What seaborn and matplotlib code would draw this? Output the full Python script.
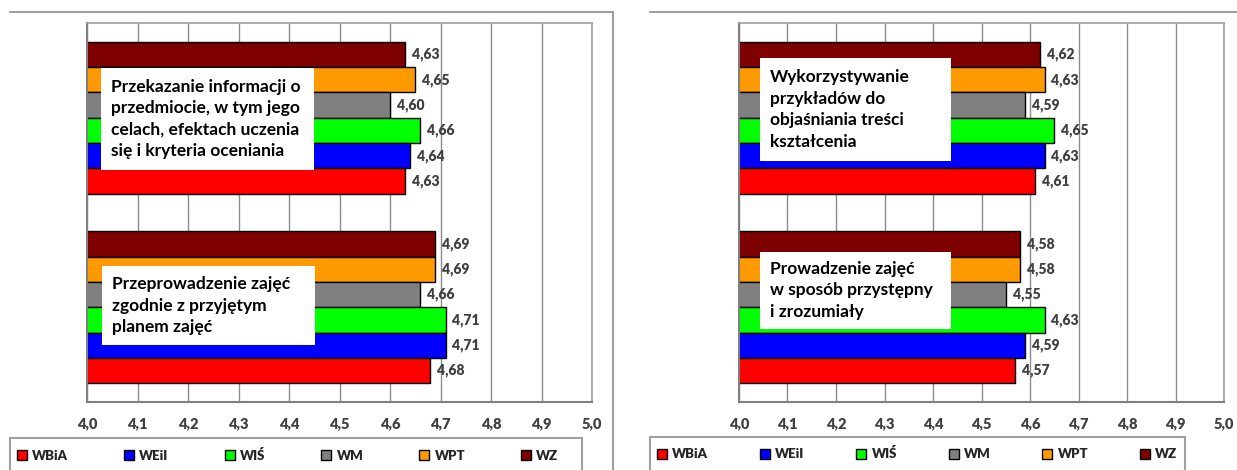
import matplotlib
matplotlib.use("Agg")
import matplotlib.pyplot as plt
from matplotlib.patches import Patch, Rectangle
from matplotlib.lines import Line2D
import pandas as pd
import seaborn as sns

# Faculties (legend order) and their colours
faculties = ["WBiA", "WEiI", "WIŚ", "WM", "WPT", "WZ"]
colors = ["#ff0000", "#0000ff", "#00ff00", "#808080", "#ff9900", "#7f0000"]

# Left panel
left_categories = [
    "Przekazanie informacji o\nprzedmiocie, w tym jego\ncelach, efektach uczenia\nsię i kryteria oceniania",
    "Przeprowadzenie zajęć\nzgodnie z przyjętym\nplanem zajęć",
]
left_informacja = [4.63, 4.64, 4.66, 4.60, 4.65, 4.63]
left_plan = [4.68, 4.71, 4.71, 4.66, 4.69, 4.69]

# Right panel
right_categories = [
    "Wykorzystywanie\nprzykładów do\nobjaśniania treści\nkształcenia",
    "Prowadzenie zajęć\nw sposób przystępny\ni zrozumiały",
]
right_przyklady = [4.61, 4.63, 4.65, 4.59, 4.63, 4.62]
right_przystepny = [4.57, 4.59, 4.63, 4.55, 4.58, 4.58]

x_ticks = [4.0, 4.1, 4.2, 4.3, 4.4, 4.5, 4.6, 4.7, 4.8, 4.9, 5.0]

W, H = 1237, 470
FONT = "Lato"
TXT = "#404040"
FRAME = "#a0a0a0"


def comma(v, d=2):
    return f"{v:.{d}f}".replace(".", ",")


def fx(px):
    return px / W


def fy(py):
    return 1 - py / H


def make_df(categories, series):
    rows = []
    for cat, values in zip(categories, series):
        for fac, v in zip(faculties, values):
            rows.append({"kategoria": cat, "wydzial": fac, "ocena": v})
    return pd.DataFrame(rows)


def draw_panel(fig, rect, categories, series, boxes):
    ax = fig.add_axes(rect)
    df = make_df(categories, series)
    # WZ on top of each group, WBiA at the bottom
    sns.barplot(data=df, y="kategoria", x="ocena", hue="wydzial",
                order=categories, hue_order=faculties[::-1],
                palette=dict(zip(faculties, colors)), orient="h",
                saturation=1, edgecolor="black", linewidth=1, ax=ax,
                legend=False, errorbar=None)
    for cont in ax.containers:
        ax.bar_label(cont, labels=[comma(v) for v in cont.datavalues],
                     padding=5, fontsize=10, fontweight="heavy", color=TXT,
                     family=FONT)

    ax.set_xlim(4.0, 5.0)
    ax.set_ylim(1.5, -0.5)
    ax.set_xticks(x_ticks)
    ax.set_xticklabels([comma(t, 1) for t in x_ticks])
    for lab in ax.get_xticklabels():
        lab.set_fontsize(10.5)
        lab.set_fontweight("heavy")
        lab.set_color(TXT)
    ax.set_yticks([-0.5, 0.5, 1.5])
    ax.set_yticklabels([])
    ax.set_xlabel("")
    ax.set_ylabel("")
    ax.set_axisbelow(True)
    ax.xaxis.grid(True, color="#8c8c8c", linewidth=1)
    ax.yaxis.grid(False)
    ax.tick_params(axis="x", direction="inout", length=6, color="#808080",
                   pad=8)
    ax.tick_params(axis="y", direction="out", length=5, color="#808080")
    for side in ["top", "right"]:
        ax.spines[side].set_color(FRAME)
        ax.spines[side].set_linewidth(1.2)
    for side in ["left", "bottom"]:
        ax.spines[side].set_color("#808080")
        ax.spines[side].set_linewidth(1.5)

    # white boxes with category descriptions (pixel layout: x0, x1, y0, y1)
    for (bx0, bx1, by0, by1), text in zip(boxes, categories):
        ax.add_patch(Rectangle((fx(bx0), fy(by1)), fx(bx1 - bx0), (by1 - by0) / H,
                               transform=fig.transFigure, facecolor="white",
                               edgecolor="none", zorder=5))
        fig.text(fx(bx0 + 10), fy((by0 + by1) / 2), text, ha="left",
                 va="center", fontsize=12.5, fontweight="bold", family=FONT,
                 linespacing=1.42, color="black", zorder=6)
    return ax


def draw_legend(fig, x0, x1, ytop, spacing):
    fig.add_artist(Rectangle((fx(x0), fy(H + 10)), fx(x1 - x0), (H + 10 - ytop) / H,
                             transform=fig.transFigure, facecolor="white",
                             edgecolor=FRAME, linewidth=1.5, clip_on=False))
    handles = [Patch(facecolor=c, edgecolor="black", linewidth=1)
               for c in colors]
    fig.legend(handles, faculties, loc="center left",
               bbox_to_anchor=(fx(x0 + 7), fy(ytop + 17)), ncol=6,
               frameon=False, borderpad=0, borderaxespad=0,
               handlelength=0.75, handleheight=0.75, handletextpad=0.4,
               columnspacing=spacing,
               prop={"family": FONT, "weight": "heavy", "size": 9.5})


def main():
    sns.set_style("white")
    plt.rcParams["font.family"] = [FONT, "DejaVu Sans"]

    fig = plt.figure(figsize=(W / 100, H / 100), dpi=100)

    # outer frames (cropped chart borders)
    fig.add_artist(Line2D([fx(10), fx(613)], [fy(12), fy(12)], color=FRAME, lw=1.5))
    fig.add_artist(Line2D([fx(613), fx(613)], [fy(12), fy(H)], color=FRAME, lw=1.5))
    fig.add_artist(Line2D([fx(650), fx(W)], [fy(12), fy(12)], color=FRAME, lw=1.5))

    draw_panel(fig, [fx(87), fy(402), fx(505), 379 / H], left_categories,
               [left_informacja, left_plan],
               [(101, 314, 68, 170), (102, 315, 266, 345)])
    draw_panel(fig, [fx(739), fy(402), fx(485), 379 / H], right_categories,
               [right_przyklady, right_przystepny],
               [(760, 951, 58, 161), (760, 951, 252, 329)])

    draw_legend(fig, 10, 582, 438, 4.25)
    draw_legend(fig, 650, 1185, 437, 3.93)

    fig.savefig("out.png", dpi=100)


if __name__ == "__main__":
    main()
